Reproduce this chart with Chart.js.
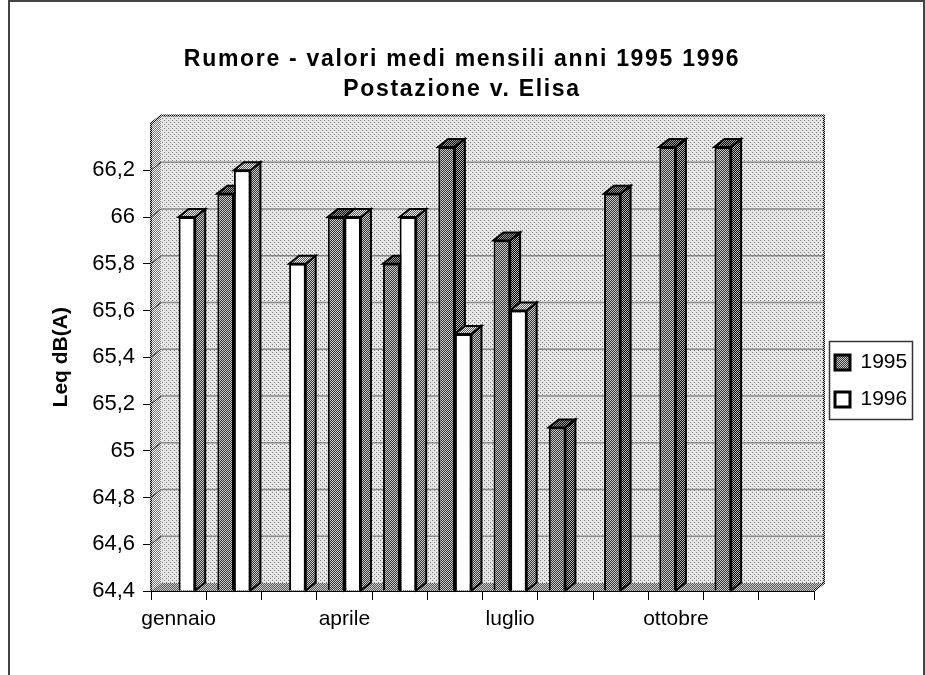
<!DOCTYPE html>
<html>
<head>
<meta charset="utf-8">
<title>Rumore</title>
<script src="https://cdn.jsdelivr.net/npm/chart.js@4"></script>
<style>
    html, body { margin: 0; padding: 0; background: #fff; overflow: hidden; }
    #frame { position: absolute; left: 8px; top: 0; width: 913px; height: 700px; border: 2px solid #444; }
    #wrap { position: absolute; left: 0; top: 0; width: 925px; height: 675px; }
</style>
</head>
<body>
<div id="frame"></div>
<div id="wrap"><canvas id="myChart" width="925" height="675"></canvas></div>
<script>
const months = ['gennaio', 'febbraio', 'marzo', 'aprile', 'maggio', 'giugno', 'luglio', 'agosto', 'settembre', 'ottobre', 'novembre', 'dicembre'];
const values1995 = [null, 66.1, null, 66.0, 65.8, 66.3, 65.9, 65.1, 66.1, 66.3, 66.3, null];
const values1996 = [66.0, 66.2, 65.8, 66.0, 66.0, 65.5, 65.6, null, null, null, null, null];
const titleLines = ['Rumore - valori medi mensili anni 1995 1996', 'Postazione v. Elisa'];
const yAxisTitle = 'Leq dB(A)';
const yMin = 64.4;
const yMax = 66.4;

const FONT = '"Liberation Sans", Arial, sans-serif';
const DEPTH_X = 10;
const DEPTH_Y = 8;

// small checker tile used for the old-style dithered fills
function dither(fg, bg, step) {
    let tile = document.createElement('canvas');
    tile.width = step * 2;
    tile.height = step * 2;
    let t = tile.getContext('2d');
    t.fillStyle = bg;
    t.fillRect(0, 0, step * 2, step * 2);
    t.fillStyle = fg;
    t.fillRect(0, 0, 1, 1);
    t.fillRect(step, step, 1, 1);
    return t.createPattern(tile, 'repeat');
}

function checker(a, b) {
    let tile = document.createElement('canvas');
    tile.width = 2;
    tile.height = 2;
    let t = tile.getContext('2d');
    t.fillStyle = a;
    t.fillRect(0, 0, 2, 2);
    t.fillStyle = b;
    t.fillRect(0, 0, 1, 1);
    t.fillRect(1, 1, 1, 1);
    return t.createPattern(tile, 'repeat');
}

const wallFill = dither('#777777', '#e6e6e6', 2);
const sideWallFill = checker('#777777', '#f2f2f2');
const floorFill = checker('#555555', '#cccccc');
const edgeFill = checker('#000000', '#cccccc');
const grayFront = checker('#333333', '#cccccc');
const graySide = checker('#000000', '#bbbbbb');
const grayTop = checker('#111111', '#999999');
const whiteSide = checker('#333333', '#cccccc');
const whiteTop = checker('#555555', '#eeeeee');

function poly(ctx, pts, fill, stroke, width) {
    ctx.beginPath();
    pts.forEach((p, i) => i ? ctx.lineTo(p[0], p[1]) : ctx.moveTo(p[0], p[1]));
    ctx.closePath();
    if (fill) {
        ctx.fillStyle = fill;
        ctx.fill();
    }
    if (stroke) {
        ctx.strokeStyle = stroke;
        ctx.lineWidth = width;
        ctx.lineJoin = 'miter';
        ctx.stroke();
    }
}

const depthPlugin = {
    id: 'depth',
    afterLayout(chart) {
        // legend and title sit off the default layout spots
        let legend = chart.legend;
        legend.left = 819;
        legend.right = 913;
        legend.top = 336;
        legend.bottom = 470;
        let title = chart.titleBlock;
        title.left += 55;
        title.right += 55;
        if (!title.spaced) {
            // the reference title is letter-spaced, the font alone is too narrow
            let drawTitle = title.draw;
            title.draw = function () {
                chart.ctx.letterSpacing = '1.7px';
                drawTitle.call(title);
                chart.ctx.letterSpacing = '0px';
            };
            title.spaced = true;
        }
    },
    beforeDraw(chart) {
        let ctx = chart.ctx;
        ctx.save();
        ctx.strokeStyle = '#333333';
        ctx.lineWidth = 1.5;
        ctx.strokeRect(829.5, 341.5, 83, 78);
        ctx.restore();
    },
    beforeDatasetsDraw(chart) {
        let ctx = chart.ctx;
        let a = chart.chartArea;
        let y = chart.scales.y;
        ctx.save();

        // back wall, side wall, floor
        ctx.fillStyle = wallFill;
        ctx.fillRect(a.left + DEPTH_X, a.top - DEPTH_Y, a.right - a.left, a.bottom - a.top);
        poly(ctx, [[a.left, a.top], [a.left + DEPTH_X, a.top - DEPTH_Y], [a.left + DEPTH_X, a.bottom - DEPTH_Y], [a.left, a.bottom]], sideWallFill);
        poly(ctx, [[a.left, a.bottom], [a.right, a.bottom], [a.right + DEPTH_X, a.bottom - DEPTH_Y], [a.left + DEPTH_X, a.bottom - DEPTH_Y]], floorFill);

        // grid lines run across the side wall and the back wall
        y.ticks.forEach(tick => {
            let py = y.getPixelForValue(tick.value);
            if (tick.value <= y.min || tick.value >= y.max) return;
            ctx.strokeStyle = '#8a8a8a';
            ctx.lineWidth = 1.5;
            ctx.beginPath();
            ctx.moveTo(a.left + DEPTH_X, py - DEPTH_Y);
            ctx.lineTo(a.right + DEPTH_X, py - DEPTH_Y);
            ctx.stroke();
            ctx.strokeStyle = '#333333';
            ctx.lineWidth = 1;
            ctx.beginPath();
            ctx.moveTo(a.left, py);
            ctx.lineTo(a.left + DEPTH_X, py - DEPTH_Y);
            ctx.stroke();
        });

        // dotted outer edges of the walls
        ctx.strokeStyle = edgeFill;
        ctx.lineWidth = 2;
        ctx.beginPath();
        ctx.moveTo(a.left, a.bottom);
        ctx.lineTo(a.left, a.top);
        ctx.lineTo(a.left + DEPTH_X, a.top - DEPTH_Y);
        ctx.lineTo(a.right + DEPTH_X, a.top - DEPTH_Y);
        ctx.lineTo(a.right + DEPTH_X, a.bottom - DEPTH_Y);
        ctx.lineTo(a.right, a.bottom);
        ctx.stroke();

        // side and top of each bar, behind all the fronts
        const faces = [[graySide, grayTop], [whiteSide, whiteTop]];
        chart.data.datasets.forEach((ds, i) => {
            chart.getDatasetMeta(i).data.forEach((bar, j) => {
                if (ds.data[j] === null) return;
                let half = bar.width / 2;
                let l = bar.x - half;
                let r = bar.x + half;
                let t = bar.y;
                let b = bar.base;
                poly(ctx, [[r, t], [r + DEPTH_X, t - DEPTH_Y], [r + DEPTH_X, b - DEPTH_Y], [r, b]], faces[i][0], '#000', 2);
                poly(ctx, [[l, t], [l + DEPTH_X, t - DEPTH_Y], [r + DEPTH_X, t - DEPTH_Y], [r, t]], faces[i][1], '#000', 2);
            });
        });
        ctx.restore();
    }
};

let ctx = document.getElementById('myChart').getContext('2d');

let myChart = new Chart(ctx, {
    type: 'bar',
    data: {
        labels: months,
        datasets: [
            { label: '1995', data: values1995, base: yMin, backgroundColor: grayFront, borderColor: '#000', borderWidth: 2 },
            { label: '1996', data: values1996, base: yMin, backgroundColor: '#ffffff', borderColor: '#000', borderWidth: 2 }
        ]
    },
    options: {
        responsive: false,
        animation: false,
        layout: { padding: { left: 0, right: 111, top: 0, bottom: 0 } },
        datasets: { bar: { categoryPercentage: 0.6, barPercentage: 1 } },
        plugins: {
            title: {
                display: true,
                text: titleLines,
                color: '#000',
                font: { family: FONT, size: 23, weight: 'bold', lineHeight: 1.3 },
                padding: { top: 45, bottom: 18.7 }
            },
            legend: {
                position: 'chartArea',
                align: 'start',
                labels: {
                    color: '#000',
                    font: { family: FONT, size: 21 },
                    boxWidth: 15,
                    boxHeight: 15,
                    padding: 16,
                    generateLabels: function (chart) {
                        return Chart.defaults.plugins.legend.labels.generateLabels(chart).map(item => {
                            item.lineWidth = 3;
                            return item;
                        });
                    }
                }
            },
            tooltip: { enabled: false }
        },
        scales: {
            x: {
                afterFit: s => { s.height = 84; },
                grid: { offset: true, drawOnChartArea: false, color: '#000', tickLength: 9 },
                border: { color: '#000', width: 2 },
                ticks: {
                    autoSkip: false,
                    maxRotation: 0,
                    color: '#000',
                    font: { family: FONT, size: 21 },
                    padding: 7,
                    callback: function (value, index) {
                        return index % 3 === 0 ? months[index] : '';
                    }
                }
            },
            y: {
                min: yMin,
                max: yMax,
                afterFit: s => { s.width = 151; },
                title: {
                    display: true,
                    text: yAxisTitle,
                    color: '#000',
                    font: { family: FONT, size: 21, weight: 'bold' },
                    padding: { top: 49, bottom: 0 }
                },
                grid: {
                    drawOnChartArea: false,
                    tickLength: 8,
                    color: c => (c.tick && c.tick.value >= yMax - 0.01) ? 'rgba(0,0,0,0)' : '#000'
                },
                border: { display: false },
                ticks: {
                    stepSize: 0.2,
                    color: '#000',
                    font: { family: FONT, size: 22 },
                    padding: 8,
                    callback: function (value) {
                        if (value >= yMax - 0.01) return '';
                        return String(+value.toFixed(1)).replace('.', ',');
                    }
                }
            }
        }
    },
    plugins: [depthPlugin]
});
</script>
</body>
</html>
